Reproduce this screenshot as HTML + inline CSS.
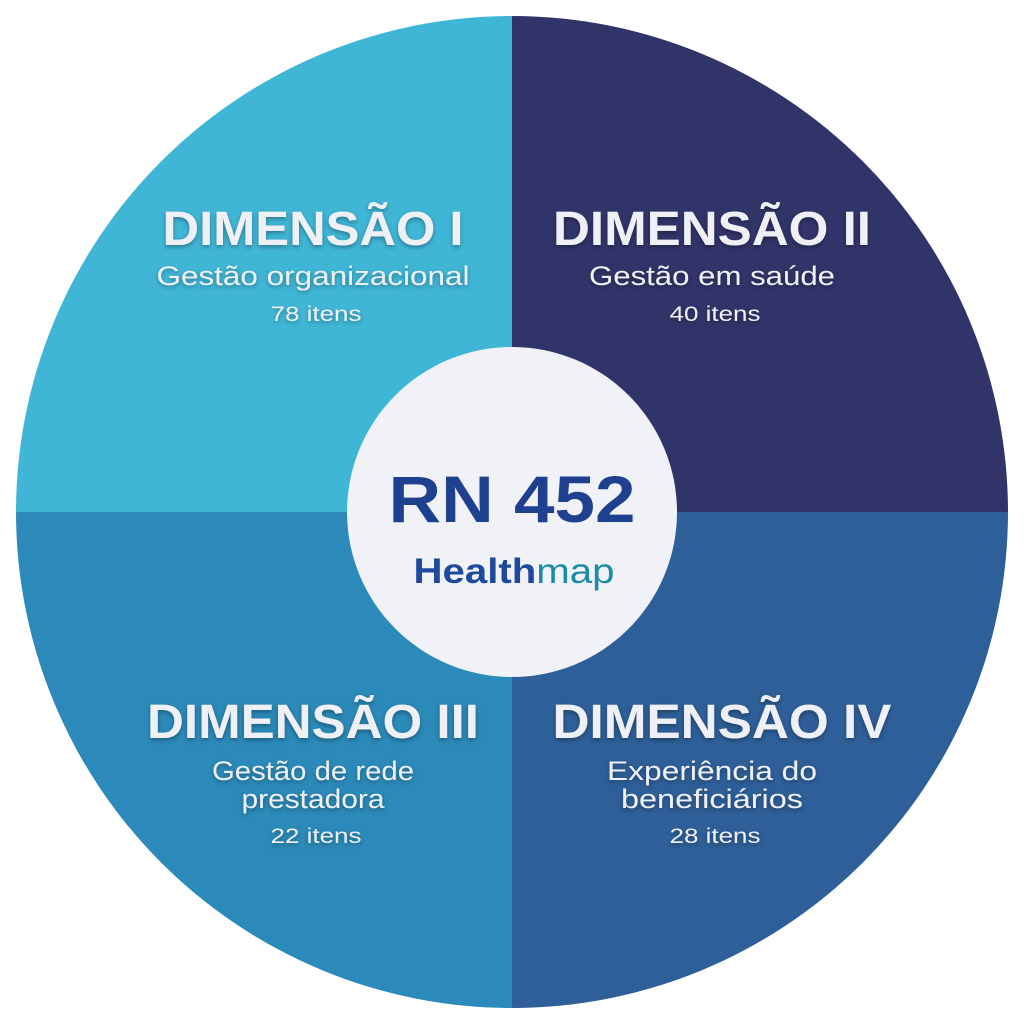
<!DOCTYPE html>
<html><head><meta charset="utf-8"><style>
html,body{margin:0;padding:0;background:#fff;}
svg{display:block}
.h{font-family:"Liberation Sans",sans-serif;font-weight:bold;font-size:48px;fill:#eef0f6;}
.s{font-family:"Liberation Sans",sans-serif;font-size:27px;fill:#eef0f6;}
.i{font-family:"Liberation Sans",sans-serif;font-size:21px;fill:#eef0f6;}
</style></head><body>
<svg width="1024" height="1024" viewBox="0 0 1024 1024" xmlns="http://www.w3.org/2000/svg">
<defs>
<clipPath id="c"><circle cx="512" cy="512" r="496"/></clipPath>
<filter id="sh" x="-10%" y="-30%" width="120%" height="160%"><feDropShadow dx="0" dy="2" stdDeviation="2.5" flood-color="#000" flood-opacity="0.35"/></filter>
</defs>
<g clip-path="url(#c)">
<rect x="0" y="0" width="512" height="512" fill="#40b6d6"/>
<rect x="512" y="0" width="512" height="512" fill="#313469"/>
<rect x="0" y="512" width="512" height="512" fill="#2b8ab9"/>
<rect x="512" y="512" width="512" height="512" fill="#2e5f99"/>
</g>
<circle cx="512" cy="512" r="165" fill="#f0f2f8"/>
<g filter="url(#sh)" text-anchor="middle">
<text class="h" x="313" y="245" textLength="301" lengthAdjust="spacingAndGlyphs">DIMENSÃO I</text>
<text class="s" x="313" y="285" textLength="313" lengthAdjust="spacingAndGlyphs">Gestão organizacional</text>
<text class="i" x="316" y="321" textLength="91" lengthAdjust="spacingAndGlyphs">78 itens</text>
<text class="h" x="712" y="245" textLength="318" lengthAdjust="spacingAndGlyphs">DIMENSÃO II</text>
<text class="s" x="712" y="285" textLength="246" lengthAdjust="spacingAndGlyphs">Gestão em saúde</text>
<text class="i" x="715" y="321" textLength="91" lengthAdjust="spacingAndGlyphs">40 itens</text>
<text class="h" x="313" y="738" textLength="332" lengthAdjust="spacingAndGlyphs">DIMENSÃO III</text>
<text class="s" x="313" y="780" textLength="202" lengthAdjust="spacingAndGlyphs">Gestão de rede</text>
<text class="s" x="313" y="808" textLength="143" lengthAdjust="spacingAndGlyphs">prestadora</text>
<text class="i" x="316" y="843" textLength="91" lengthAdjust="spacingAndGlyphs">22 itens</text>
<text class="h" x="722" y="738" textLength="339" lengthAdjust="spacingAndGlyphs">DIMENSÃO IV</text>
<text class="s" x="712" y="780" textLength="210" lengthAdjust="spacingAndGlyphs">Experiência do</text>
<text class="s" x="712" y="808" textLength="182" lengthAdjust="spacingAndGlyphs">beneficiários</text>
<text class="i" x="715" y="843" textLength="91" lengthAdjust="spacingAndGlyphs">28 itens</text>
</g>
<text x="512" y="522" text-anchor="middle" font-family="Liberation Sans,sans-serif" font-weight="bold" font-size="66" fill="#1f3f8f" textLength="247" lengthAdjust="spacingAndGlyphs">RN 452</text>
<text x="514" y="583" text-anchor="middle" font-family="Liberation Sans,sans-serif" font-size="35" textLength="201" lengthAdjust="spacingAndGlyphs"><tspan font-weight="bold" fill="#1f4a9b">Health</tspan><tspan fill="#1b8ba8">map</tspan></text>
</svg>
</body></html>
